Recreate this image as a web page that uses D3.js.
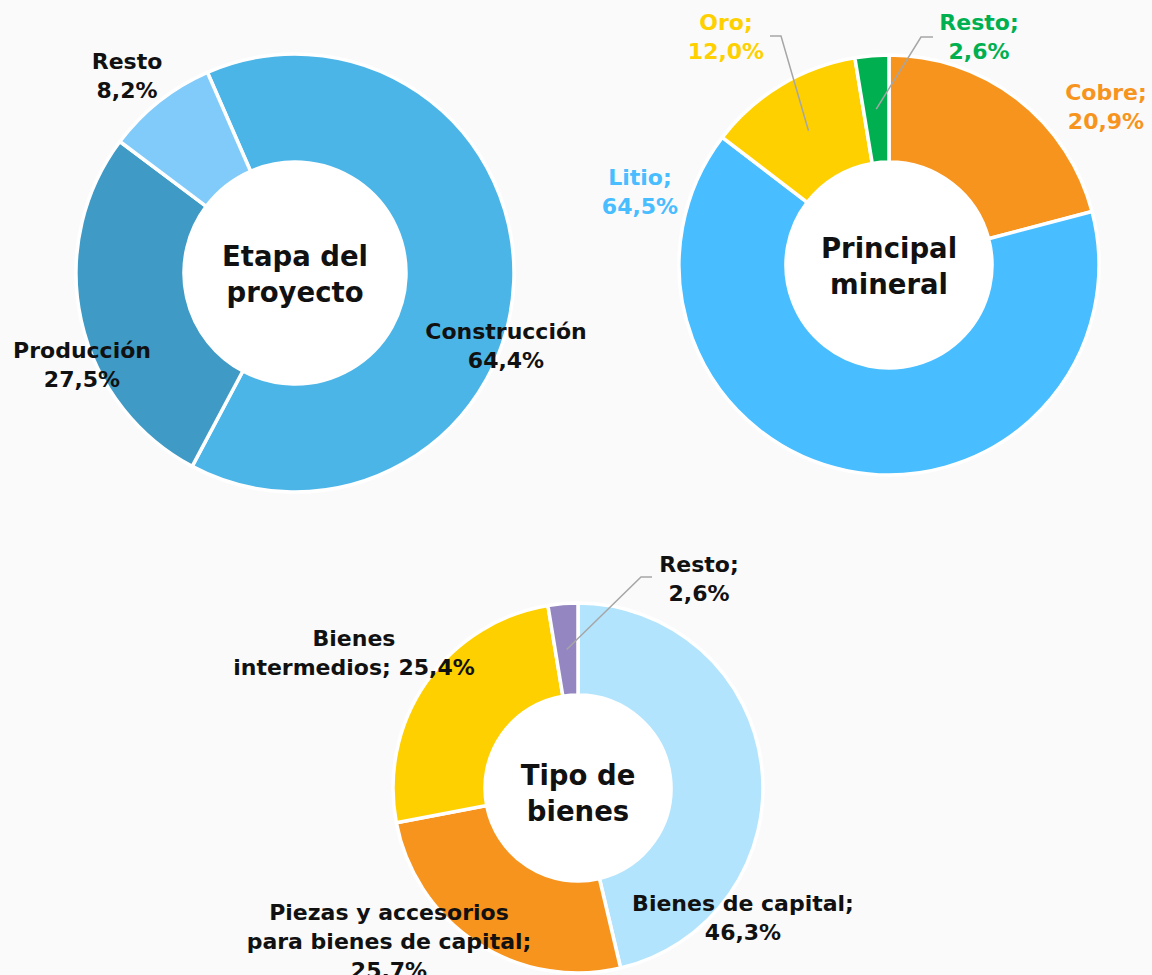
<!DOCTYPE html>
<html>
<head>
<meta charset="utf-8">
<script src="https://cdn.jsdelivr.net/npm/d3@7"></script>
<style>
  html, body { margin: 0; padding: 0; background: #fafafa; }
  svg { display: block; font-family: "DejaVu Sans", sans-serif; font-weight: bold; }
</style>
</head>
<body>
<div id="chart"></div>
<script>
// data
const etapaLabels = ['Construcción', 'Producción', 'Resto'];
const etapaValues = [64.4, 27.5, 8.2];
const mineralLabels = ['Cobre', 'Litio', 'Oro', 'Resto'];
const mineralValues = [20.9, 64.5, 12.0, 2.6];
const bienesLabels = ['Bienes de capital', 'Piezas y accesorios para bienes de capital', 'Bienes intermedios', 'Resto'];
const bienesValues = [46.3, 25.7, 25.4, 2.6];

const fmt = v => d3.format('.1f')(v).replace('.', ',') + '%';

const W = 1152, H = 975;
const svg = d3.select('#chart').append('svg')
  .attr('width', W)
  .attr('height', H);

svg.append('rect').attr('width', W).attr('height', H).attr('fill', '#fafafa');

// one donut
function drawDonut(cfg) {
  const g = svg.append('g')
    .attr('transform', `translate(${cfg.cx}, ${cfg.cy})`);

  const pie = d3.pie().sort(null)
    .startAngle(cfg.start * Math.PI / 180)
    .endAngle(cfg.start * Math.PI / 180 + 2 * Math.PI);
  const arcs = pie(cfg.values);
  const arc = d3.arc().innerRadius(cfg.inner).outerRadius(cfg.outer);

  g.append('circle').attr('r', cfg.inner).attr('fill', '#ffffff');

  g.selectAll('path.slice')
    .data(arcs)
    .enter()
    .append('path')
    .classed('slice', true)
    .attr('d', arc)
    .attr('fill', (d, i) => cfg.colors[i])
    .attr('stroke', '#ffffff')
    .attr('stroke-width', 3.5)
    .attr('stroke-linejoin', 'round');

  // leader lines
  arcs.forEach((d, i) => {
    const lay = cfg.layout[i];
    if (!lay.elbow) return;
    const c = arc.centroid(d);
    const e = lay.elbow;
    g.append('polyline')
      .attr('points', `${c[0]},${c[1]} ${e[0]},${e[1]} ${e[0] + e[2]},${e[1]}`)
      .attr('fill', 'none')
      .attr('stroke', '#a6a6a6')
      .attr('stroke-width', 1.5);
  });

  // labels
  arcs.forEach((d, i) => {
    const lay = cfg.layout[i];
    const lines = lay.lines(cfg.labels[i], fmt(cfg.values[i]));
    const t = g.append('text')
      .attr('text-anchor', 'middle')
      .attr('font-size', cfg.labelSize)
      .attr('fill', cfg.labelColors ? cfg.labelColors[i] : '#111111');
    const y0 = lay.pos[1] - (lines.length - 1) * cfg.lineH / 2;
    lines.forEach((s, k) => {
      t.append('tspan')
        .attr('x', lay.pos[0])
        .attr('y', y0 + k * cfg.lineH)
        .attr('dy', '0.36em')
        .text(s);
    });
  });

  // center title
  const ct = g.append('text')
    .attr('text-anchor', 'middle')
    .attr('font-size', cfg.titleSize)
    .attr('fill', '#111111');
  cfg.title.forEach((s, k) => {
    ct.append('tspan')
      .attr('x', 0)
      .attr('y', cfg.titleY + (k - (cfg.title.length - 1) / 2) * 36)
      .attr('dy', '0.36em')
      .text(s);
  });
}

const twoLines = (n, v) => [n, v];
const twoLinesSemi = (n, v) => [n + ';', v];

drawDonut({
  cx: 295, cy: 273, outer: 219, inner: 111, start: -23.6,
  values: etapaValues, labels: etapaLabels,
  colors: ['#4cb5e8', '#3f9ac6', '#80cbf9'],
  title: ['Etapa del', 'proyecto'], titleSize: 27.5, titleY: 1,
  labelSize: 22, lineH: 29,
  layout: [
    { pos: [211, 73], lines: twoLines },
    { pos: [-213, 92], lines: twoLines },
    { pos: [-168, -197], lines: twoLines }
  ]
});

drawDonut({
  cx: 889, cy: 265, outer: 210, inner: 103, start: 0,
  values: mineralValues, labels: mineralLabels,
  colors: ['#f7941e', '#48bdff', '#ffd000', '#00b050'],
  labelColors: ['#f7941e', '#48bdff', '#ffd000', '#00b050'],
  title: ['Principal', 'mineral'], titleSize: 27.5, titleY: 1,
  labelSize: 22, lineH: 29,
  layout: [
    { pos: [217, -158], lines: twoLinesSemi },
    { pos: [-249, -73], lines: twoLinesSemi },
    { pos: [-163, -228], lines: twoLinesSemi, elbow: [-108, -229, -11] },
    { pos: [90, -228], lines: twoLinesSemi, elbow: [32, -228, 12] }
  ]
});

drawDonut({
  cx: 578, cy: 788, outer: 185, inner: 93, start: 0,
  values: bienesValues, labels: bienesLabels,
  colors: ['#b3e4fd', '#f7941e', '#ffd000', '#9486c1'],
  title: ['Tipo de', 'bienes'], titleSize: 27.5, titleY: 5,
  labelSize: 22, lineH: 29,
  layout: [
    { pos: [165, 130], lines: (n, v) => [n + ';', v] },
    { pos: [-189, 153], lines: (n, v) => ['Piezas y accesorios', 'para bienes de capital;', v] },
    { pos: [-224, -135], lines: (n, v) => ['Bienes', 'intermedios; ' + v] },
    { pos: [121, -209], lines: twoLinesSemi, elbow: [63, -211, 11] }
  ]
});
</script>
</body>
</html>
